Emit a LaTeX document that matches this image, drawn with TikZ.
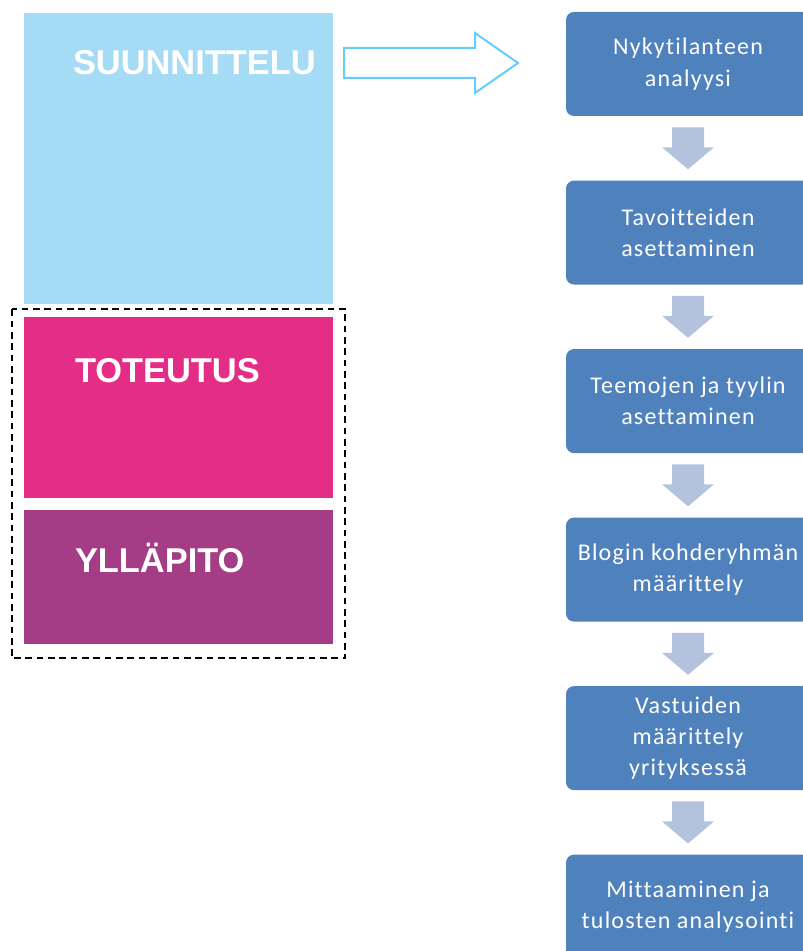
\documentclass[tikz,border=0pt]{standalone}
\usepackage{fontspec}
\setmainfont{Liberation Sans}
\newfontfamily\stepfont[LetterSpace=5,Ligatures={NoCommon}]{Carlito}
\usetikzlibrary{positioning,calc}

\definecolor{suuncol}{HTML}{A6DBF6}
\definecolor{totecol}{HTML}{E32D87}
\definecolor{yllacol}{HTML}{A43D86}
\definecolor{stepblue}{HTML}{4F81BD}
\definecolor{arrowgray}{HTML}{B3C3DE}
\definecolor{arrowblue}{HTML}{66CCFF}

\begin{document}
\begin{tikzpicture}[
x=0.75pt, y=0.75pt,
node distance=48pt,
phase/.style={rectangle, minimum width=231.75pt, inner sep=0pt},
phaselabel/.style={text=white, font=\fontsize{25.8}{30}\selectfont\bfseries, inner sep=0pt, anchor=base west},
stepbox/.style={rectangle, rounded corners=6pt, fill=stepblue, text=white, minimum width=183pt, minimum height=78pt, align=center, font=\stepfont\fontsize{18}{23.5}\selectfont, inner sep=0pt},
downarrow/.style={fill=arrowgray},
bigarrow/.style={draw=arrowblue, line width=1.5pt},
dashframe/.style={draw, line width=1.5pt, dash pattern=on 5pt off 3.5pt}
]
\useasboundingbox (0,0) rectangle (803,951);
\clip (0,0) rectangle (803,951);

% vaiheet vasemmalla
\node[phase, fill=suuncol, minimum height=218.25pt] (suun) at (178.5,792.5) {};
\node[phase, fill=totecol, minimum height=135.75pt, below=9pt of suun] (tote) {};
\node[phase, fill=yllacol, minimum height=100.5pt, below=9pt of tote] (ylla) {};

\node[phaselabel] (suunlbl) at ([shift={(49,-62)}]suun.north west) {SUUNNITTELU};
\node[phaselabel] (totelbl) at ([shift={(51,-66)}]tote.north west) {TOTEUTUS};
\node[phaselabel] (yllalbl) at ([shift={(51,-63)}]ylla.north west) {YLLÄPITO};

\draw[dashframe] ([shift={(-12,7)}]tote.north west) rectangle ([shift={(12,-14)}]ylla.south east);

% iso nuoli
\draw[bigarrow] (344,873) -- (344,903) -- (475,903) -- (475,918) -- (518,888) -- (475,858) -- (475,873) -- cycle;

% suunnittelun vaiheet
\node[stepbox] (nyky) at (688,887) {Nykytilanteen\\analyysi};
\node[stepbox, below=of nyky] (tavo) {Tavoitteiden\\asettaminen};
\node[stepbox, below=of tavo] (teem) {Teemojen ja tyylin\\asettaminen};
\node[stepbox, below=of teem] (blog) {Blogin kohderyhmän\\määrittely};
\node[stepbox, below=of blog] (vast) {Vastuiden\\määrittely\\yrityksessä};
\node[stepbox, below=of vast] (mitt) {Mittaaminen ja\\tulosten analysointi};

\foreach \a/\b in {nyky/tavo, tavo/teem, teem/blog, blog/vast, vast/mitt}
  \fill[downarrow] ($(\a.south)+(-16,-11)$) -- ++(32,0) -- ++(0,-20) -- ++(10,0) -- ++(-26,-22) -- ++(-26,22) -- ++(10,0) -- cycle;

\end{tikzpicture}
\end{document}
